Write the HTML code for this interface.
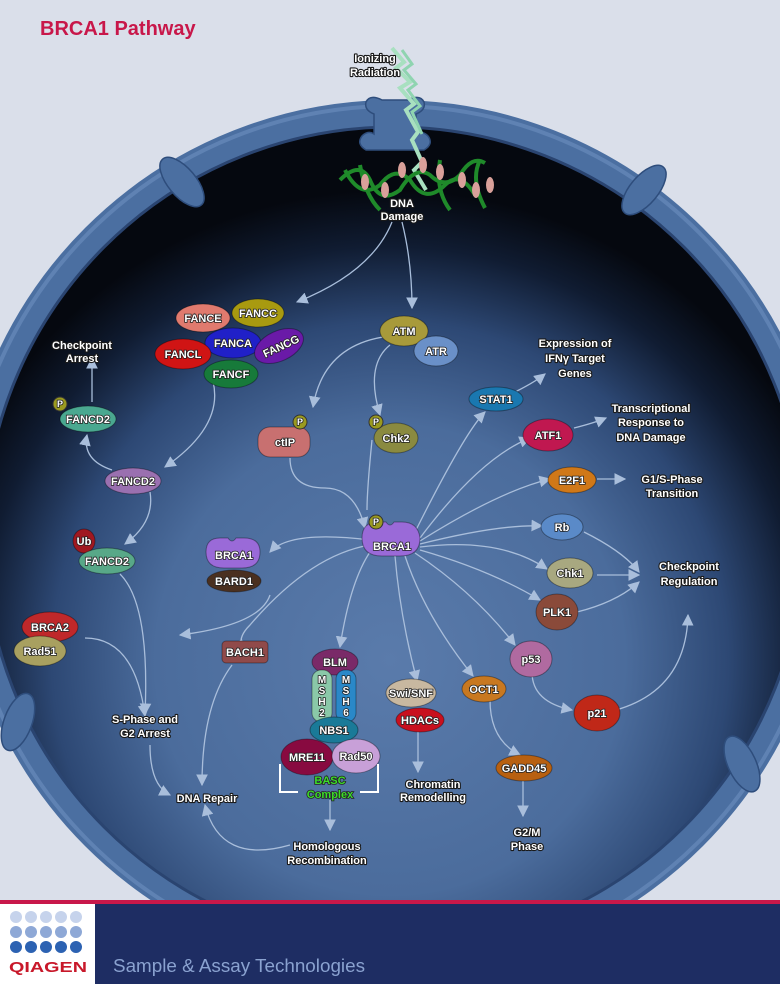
<!DOCTYPE html>
<html><head><meta charset="utf-8"><style>
html,body{margin:0;padding:0;background:#dadfea;}
svg{display:block}
.t{font-family:"Liberation Sans",sans-serif;font-weight:bold;font-size:11px;fill:#fff;stroke:#1a1a1a;stroke-width:2.2px;paint-order:stroke;stroke-linejoin:round;text-anchor:middle}
.n{font-family:"Liberation Sans",sans-serif;font-weight:bold;font-size:11px;fill:#fff;stroke:#222;stroke-width:1.6px;paint-order:stroke;text-anchor:middle}
.a{fill:none;stroke:#a9bedb;stroke-width:1.3}
</style></head><body>
<svg width="780" height="984" viewBox="0 0 780 984" xmlns="http://www.w3.org/2000/svg">
<defs>
<radialGradient id="cell" cx="390" cy="660" r="470" gradientUnits="userSpaceOnUse">
<stop offset="0" stop-color="#5a7bab"/><stop offset="0.5" stop-color="#4b6c9c"/><stop offset="0.72" stop-color="#2d4874"/><stop offset="0.88" stop-color="#101c32"/><stop offset="1" stop-color="#05080f"/>
</radialGradient>
<marker id="ar" viewBox="0 0 10 10" refX="9" refY="5" markerWidth="9" markerHeight="9" orient="auto"><path d="M0,0L10,5L0,10z" fill="#a9bedb"/></marker>
<clipPath id="top"><rect x="0" y="0" width="780" height="900"/></clipPath>
</defs>
<rect width="780" height="984" fill="#dadfea"/>
<text x="40" y="35" font-family="Liberation Sans,sans-serif" font-weight="bold" font-size="20" fill="#c8174a">BRCA1 Pathway</text>
<g clip-path="url(#top)">
<circle cx="394" cy="537" r="412" fill="url(#cell)"/>
<circle cx="394" cy="537" r="423" fill="none" stroke="#4b6fa1" stroke-width="28"/>
<circle cx="394" cy="537" r="431" fill="none" stroke="#6c8fbf" stroke-width="4" opacity="0.6"/>
<circle cx="394" cy="537" r="410" fill="none" stroke="#2a4470" stroke-width="3"/>
</g>
<!-- membrane clips -->
<g fill="#4b6fa1" stroke="#2e4d7c" stroke-width="1.5">
<path d="M366,150 q-10,-6 -4,-14 q6,-6 12,-2 l0,-20 q-10,-4 -8,-12 q4,-8 16,-2 l26,0 q12,-6 16,2 q2,8 -8,12 l0,20 q6,-4 12,2 q6,8 -4,14 z"/>
<ellipse cx="182" cy="182" rx="14" ry="30" transform="rotate(-40 182 182)"/>
<ellipse cx="644" cy="190" rx="14" ry="30" transform="rotate(40 644 190)"/>
<ellipse cx="18" cy="722" rx="14" ry="30" transform="rotate(20 18 722)"/>
<ellipse cx="742" cy="764" rx="14" ry="30" transform="rotate(-25 742 764)"/>
</g>
<!-- lightning -->
<path d="M392,48 l12,14 -8,6 14,14 -10,6 14,16 -8,6 12,22 -6,8 10,22 -8,8 12,20" fill="none" stroke="#a8e0c0" stroke-width="4"/>
<path d="M402,50 l10,14 -8,6 12,14 -8,6 12,16 -8,6 10,22" fill="none" stroke="#8fd4b0" stroke-width="3"/>
<!-- DNA -->
<g fill="none" stroke="#1f8a2a" stroke-width="4">
<path d="M340,180 q20,-20 30,0 q10,25 30,10 q15,-25 30,-15 q15,15 30,0 q12,-20 25,-12"/>
<path d="M345,170 q15,30 35,15 q15,-20 30,-5 q15,25 35,5 q15,-15 30,10"/>
<path d="M360,165 q5,30 20,45 M440,160 q-5,30 10,50 M480,160 q-10,20 5,48"/>
</g>
<g fill="#d9a09a">
<ellipse cx="365" cy="182" rx="4" ry="8"/><ellipse cx="385" cy="190" rx="4" ry="8"/><ellipse cx="402" cy="170" rx="4" ry="8"/><ellipse cx="440" cy="172" rx="4" ry="8"/><ellipse cx="462" cy="180" rx="4" ry="8"/><ellipse cx="476" cy="190" rx="4" ry="8"/><ellipse cx="490" cy="185" rx="4" ry="8"/><ellipse cx="423" cy="165" rx="4" ry="8"/>
</g>
<text class="t" x="375" y="62">Ionizing</text><text class="t" x="375" y="76">Radiation</text>
<text class="t" x="402" y="207">DNA</text><text class="t" x="402" y="220">Damage</text>

<!-- arrows -->
<g class="a" marker-end="url(#ar)">
<path d="M392,222 q-20,50 -95,80"/>
<path d="M402,222 q10,40 10,86"/>
<path d="M383,337 q-60,10 -70,70"/>
<path d="M390,345 q-25,20 -10,70"/>
<path d="M210,372 q20,50 -45,95"/>
<path d="M112,470 q-30,-10 -25,-35"/>
<path d="M92,402 l0,-44"/>
<path d="M150,492 q5,30 -25,52"/>
<path d="M120,574 q30,30 25,140"/>
<path d="M85,638 q50,0 60,78"/>
<path d="M270,595 q-10,30 -90,40"/>
<path d="M150,745 q0,40 20,50"/>
<path d="M232,665 q-30,40 -30,120"/>
<path d="M290,845 q-70,20 -85,-40"/>
<path d="M330,800 l0,30"/>
<path d="M418,728 l0,44"/>
<path d="M490,700 q0,40 30,55"/>
<path d="M523,780 l0,36"/>
<path d="M370,540 q-80,-10 -100,12"/>
<path d="M370,552 q-20,30 -30,95"/>
<path d="M395,556 q5,60 22,125"/>
<path d="M405,556 q20,60 68,120"/>
<path d="M415,553 q60,40 100,92"/>
<path d="M420,550 q70,20 120,50"/>
<path d="M420,547 q80,-10 127,22"/>
<path d="M420,544 q80,-20 122,-18"/>
<path d="M420,541 q80,-50 130,-62"/>
<path d="M420,538 q60,-80 110,-100"/>
<path d="M415,532 q50,-100 70,-120"/>
<path d="M515,392 q20,-10 30,-18"/>
<path d="M574,428 q20,-5 32,-10"/>
<path d="M597,479 l28,0"/>
<path d="M584,532 q40,20 55,40"/>
<path d="M597,575 l42,0"/>
<path d="M577,612 q40,-10 62,-30"/>
<path d="M532,672 q0,30 40,38"/>
<path d="M616,710 q70,-20 72,-95"/>
<path d="M372,440 q-5,50 -5,70" marker-end="none"/>
<path d="M290,458 q0,30 35,30 q30,0 40,40" />
<path d="M370,545 q-60,10 -120,80 q-15,15 -5,25"/>
</g>

<!-- side labels -->
<text class="t" x="82" y="349">Checkpoint</text><text class="t" x="82" y="362">Arrest</text>
<text class="t" x="575" y="347">Expression of</text><text class="t" x="575" y="362">IFNγ Target</text><text class="t" x="575" y="377">Genes</text>
<text class="t" x="651" y="412">Transcriptional</text><text class="t" x="651" y="426">Response to</text><text class="t" x="651" y="441">DNA Damage</text>
<text class="t" x="672" y="483">G1/S-Phase</text><text class="t" x="672" y="497">Transition</text>
<text class="t" x="689" y="570">Checkpoint</text><text class="t" x="689" y="585">Regulation</text>
<text class="t" x="145" y="723">S-Phase and</text><text class="t" x="145" y="737">G2 Arrest</text>
<text class="t" x="207" y="802">DNA Repair</text>
<text class="t" x="327" y="850">Homologous</text><text class="t" x="327" y="864">Recombination</text>
<text class="t" x="433" y="788">Chromatin</text><text class="t" x="433" y="801">Remodelling</text>
<text class="t" x="527" y="836">G2/M</text><text class="t" x="527" y="850">Phase</text>

<!-- nodes -->
<g stroke="rgba(0,0,0,0.35)" stroke-width="1">
<ellipse cx="203" cy="318" rx="27" ry="14" fill="#e07a6e"/>
<ellipse cx="258" cy="313" rx="26" ry="14" fill="#a89a10"/>
<ellipse cx="233" cy="343" rx="28" ry="15" fill="#2020c8"/>
<ellipse cx="279" cy="346" rx="26" ry="15" fill="#6a1aa8" transform="rotate(-25 279 346)"/>
<ellipse cx="183" cy="354" rx="28" ry="15" fill="#d01414"/>
<ellipse cx="231" cy="374" rx="27" ry="14" fill="#177a3a"/>
<ellipse cx="404" cy="331" rx="24" ry="15" fill="#a89a3a"/>
<ellipse cx="436" cy="351" rx="22" ry="15" fill="#6a90c8"/>
<ellipse cx="88" cy="419" rx="28" ry="13" fill="#4aa890"/>
<ellipse cx="133" cy="481" rx="28" ry="13" fill="#9a70b0"/>
<ellipse cx="84" cy="541" rx="11" ry="12" fill="#a01820"/>
<ellipse cx="107" cy="561" rx="28" ry="13" fill="#58a888"/>
<rect x="258" y="427" width="52" height="30" rx="12" fill="#c87070"/>
<ellipse cx="396" cy="438" rx="22" ry="15" fill="#8a8a40"/>
<ellipse cx="496" cy="399" rx="27" ry="12" fill="#1a78b0"/>
<ellipse cx="548" cy="435" rx="25" ry="16" fill="#c01850"/>
<ellipse cx="572" cy="480" rx="24" ry="13" fill="#d07818"/>
<ellipse cx="562" cy="527" rx="21" ry="13" fill="#5a8ac8"/>
<ellipse cx="570" cy="573" rx="23" ry="15" fill="#a8a880"/>
<ellipse cx="557" cy="612" rx="21" ry="18" fill="#8a4a3a"/>
<ellipse cx="531" cy="659" rx="21" ry="18" fill="#b06aa0"/>
<ellipse cx="597" cy="713" rx="23" ry="18" fill="#c02818"/>
<path d="M362,538 q0,-16 16,-16 l8,0 q4,6 8,0 l8,0 q16,0 18,16 q0,18 -20,18 l-18,0 q-20,0 -20,-18z" fill="#9a6ad8"/>
<path d="M206,552 q0,-14 14,-14 l8,0 q4,6 8,0 l8,0 q16,0 16,14 q0,16 -18,16 l-18,0 q-18,0 -18,-16z" fill="#9a6ad8"/>
<ellipse cx="234" cy="581" rx="27" ry="11" fill="#4a3020"/>
<ellipse cx="50" cy="627" rx="28" ry="15" fill="#c0282a"/>
<ellipse cx="40" cy="651" rx="26" ry="15" fill="#a8a060"/>
<rect x="222" y="641" width="46" height="22" rx="4" fill="#904a4a"/>
<ellipse cx="335" cy="662" rx="23" ry="13" fill="#7a2a68"/>
<rect x="312" y="670" width="20" height="52" rx="9" fill="#8ac8a8"/>
<rect x="336" y="670" width="20" height="52" rx="9" fill="#2a88c8"/>
<ellipse cx="334" cy="730" rx="24" ry="13" fill="#1a7a98"/>
<ellipse cx="307" cy="757" rx="26" ry="18" fill="#880a40"/>
<ellipse cx="356" cy="756" rx="24" ry="17" fill="#c8a0d8"/>
<ellipse cx="411" cy="693" rx="25" ry="14" fill="#c8b8a0"/>
<ellipse cx="420" cy="720" rx="24" ry="12" fill="#c8101e"/>
<ellipse cx="484" cy="689" rx="22" ry="13" fill="#c87820"/>
<ellipse cx="524" cy="768" rx="28" ry="13" fill="#b86010"/>
</g>
<g fill="#9a9a20" stroke="#333" stroke-width="1">
<circle cx="60" cy="404" r="7"/><circle cx="300" cy="422" r="7"/><circle cx="376" cy="422" r="7"/><circle cx="376" cy="522" r="7"/>
</g>
<g class="n">
<text x="60" y="407" style="font-size:9px">P</text><text x="300" y="425" style="font-size:9px">P</text><text x="376" y="425" style="font-size:9px">P</text><text x="376" y="525" style="font-size:9px">P</text>
</g>
<g class="n">
<text x="203" y="322">FANCE</text><text x="258" y="317">FANCC</text><text x="233" y="347">FANCA</text>
<text x="281" y="350" transform="rotate(-25 281 346)">FANCG</text><text x="183" y="358">FANCL</text><text x="231" y="378">FANCF</text>
<text x="404" y="335">ATM</text><text x="436" y="355">ATR</text>
<text x="88" y="423">FANCD2</text><text x="133" y="485">FANCD2</text><text x="84" y="545">Ub</text><text x="107" y="565">FANCD2</text>
<text x="285" y="446">ctIP</text><text x="396" y="442">Chk2</text>
<text x="496" y="403">STAT1</text><text x="548" y="439">ATF1</text><text x="572" y="484">E2F1</text><text x="562" y="531">Rb</text>
<text x="570" y="577">Chk1</text><text x="557" y="616">PLK1</text><text x="531" y="663">p53</text><text x="597" y="717">p21</text>
<text x="392" y="550">BRCA1</text><text x="234" y="559">BRCA1</text><text x="234" y="585">BARD1</text>
<text x="50" y="631">BRCA2</text><text x="40" y="655">Rad51</text><text x="245" y="656">BACH1</text>
<text x="335" y="666">BLM</text>
<g style="font-size:10px">
<text x="322" y="683">M</text><text x="322" y="694">S</text><text x="322" y="705">H</text><text x="322" y="716">2</text>
<text x="346" y="683">M</text><text x="346" y="694">S</text><text x="346" y="705">H</text><text x="346" y="716">6</text>
</g>
<text x="334" y="734">NBS1</text><text x="307" y="761">MRE11</text><text x="356" y="760">Rad50</text>
<text x="411" y="697">Swi/SNF</text><text x="420" y="724">HDACs</text><text x="484" y="693">OCT1</text><text x="524" y="772">GADD45</text>
</g>
<path d="M280,764 v28 h18 M378,764 v28 h-18" fill="none" stroke="#fff" stroke-width="2"/>
<text class="n" x="330" y="784" style="fill:#3cdc2a">BASC</text>
<text class="n" x="330" y="798" style="fill:#3cdc2a">Complex</text>

<!-- footer -->
<rect x="0" y="900" width="780" height="4" fill="#c8184a"/>
<rect x="0" y="904" width="95" height="80" fill="#fff"/>
<rect x="95" y="904" width="685" height="80" fill="#1e2d63"/>
<g>
<circle cx="16" cy="917" r="6" fill="#c6d3ec"/><circle cx="31" cy="917" r="6" fill="#c6d3ec"/><circle cx="46" cy="917" r="6" fill="#c6d3ec"/><circle cx="61" cy="917" r="6" fill="#c6d3ec"/><circle cx="76" cy="917" r="6" fill="#c6d3ec"/>
<circle cx="16" cy="932" r="6" fill="#8ea8d6"/><circle cx="31" cy="932" r="6" fill="#8ea8d6"/><circle cx="46" cy="932" r="6" fill="#8ea8d6"/><circle cx="61" cy="932" r="6" fill="#8ea8d6"/><circle cx="76" cy="932" r="6" fill="#8ea8d6"/>
<circle cx="16" cy="947" r="6" fill="#2c62b2"/><circle cx="31" cy="947" r="6" fill="#2c62b2"/><circle cx="46" cy="947" r="6" fill="#2c62b2"/><circle cx="61" cy="947" r="6" fill="#2c62b2"/><circle cx="76" cy="947" r="6" fill="#2c62b2"/>
</g>
<text x="9" y="972" font-family="Liberation Sans,sans-serif" font-weight="bold" font-size="15" fill="#c8182a" textLength="78" lengthAdjust="spacingAndGlyphs">QIAGEN</text>
<text x="113" y="972" font-family="Liberation Sans,sans-serif" font-size="18" fill="#8aa2d0" textLength="252" lengthAdjust="spacingAndGlyphs">Sample &amp; Assay Technologies</text>
</svg>
</body></html>
